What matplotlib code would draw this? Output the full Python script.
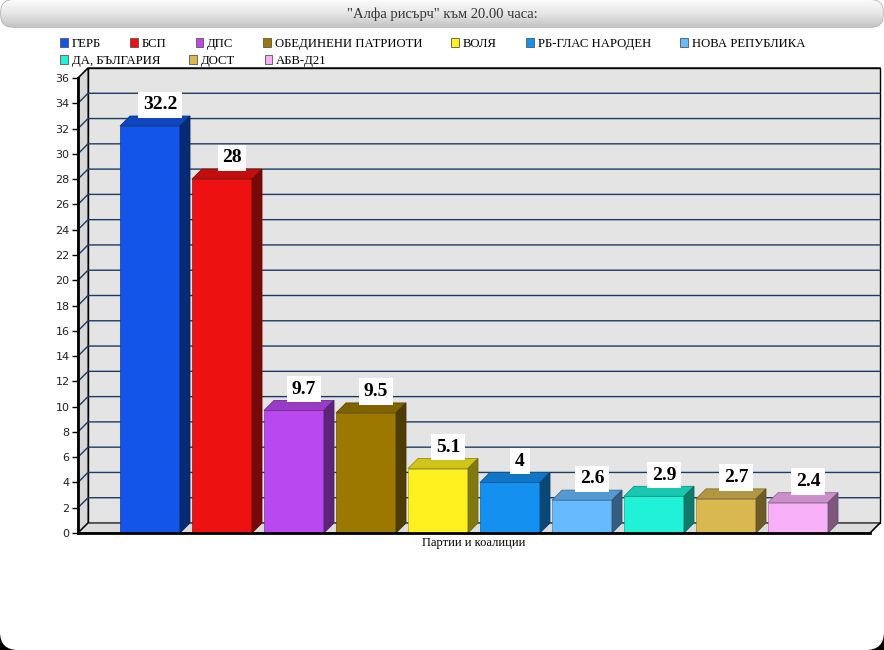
import numpy as np
import matplotlib
matplotlib.use("Agg")
import matplotlib.pyplot as plt
from matplotlib.patches import Polygon, FancyBboxPatch, Rectangle
from matplotlib.colors import to_rgb

parties = ["ГЕРБ", "БСП", "ДПС", "ОБЕДИНЕНИ ПАТРИОТИ", "ВОЛЯ", "РБ-ГЛАС НАРОДЕН",
           "НОВА РЕПУБЛИКА", "ДА, БЪЛГАРИЯ", "ДОСТ", "АБВ-Д21"]
values = [32.2, 28, 9.7, 9.5, 5.1, 4, 2.6, 2.9, 2.7, 2.4]
labels = ["32.2", "28", "9.7", "9.5", "5.1", "4", "2.6", "2.9", "2.7", "2.4"]
colors = ["#1255e8", "#ee1111", "#b948f0", "#9c7800", "#fff020", "#1490f0",
          "#66bbff", "#1ff2d6", "#d9b850", "#f8b0f8"]
yticks = list(range(0, 37, 2))

title = "\"Алфа рисърч\" към 20.00 часа:"
xlabel = "Партии и коалиции"

W, H = 884, 650
fig = plt.figure(figsize=(W / 100, H / 100), dpi=100, facecolor="black")

# background panel + title bar
bg = fig.add_axes([0, 0, 1, 1])
bg.set_xlim(0, W)
bg.set_ylim(H, 0)
bg.axis("off")
bg.add_patch(Rectangle((0, 0), W, 100, fc="white", ec="none"))
bg.add_patch(FancyBboxPatch((0, 0), W, H, boxstyle="round,pad=0,rounding_size=18",
                            fc="white", ec="none"))
bar_patch = FancyBboxPatch((1, 0), W - 2, 27, boxstyle="round,pad=0,rounding_size=12",
                           fc="none", ec="#a8a8a8", lw=1)
bg.add_patch(bar_patch)
grad = np.linspace(0, 1, 100).reshape(-1, 1)
cmap = matplotlib.colors.LinearSegmentedColormap.from_list("tb", ["#fbfbfb", "#e6e6e6", "#c4c4c4"])
im = bg.imshow(grad, extent=(0, W, 27, 0), cmap=cmap, aspect="auto", zorder=1)
im.set_clip_path(bar_patch)
bg.text(W / 2, 14, title, ha="center", va="center", fontsize=10.5,
        family="Liberation Serif", color="#333333", zorder=3)
bg.set_xlim(0, W)
bg.set_ylim(H, 0)

# plot area
left, right, top, bottom = 78, 870, 78, 533
ax = fig.add_axes([left / W, 1 - bottom / H, (right - left) / W, (bottom - top) / H])
xmin, xmax, ymin, ymax = -1.0, 10.0, 0, 36
ax.set_xlim(xmin, xmax)
ax.set_ylim(ymin, ymax)
ax.patch.set_alpha(0)

depth_px = 10
dx = depth_px * (xmax - xmin) / (right - left)
dy = depth_px * (ymax - ymin) / (bottom - top)

wall = "#e4e4e4"
grid_c = "#1c3a66"
# back wall, left wall, floor
ax.add_patch(Rectangle((xmin + dx, ymin + dy), xmax - xmin, ymax - ymin, fc=wall,
                       ec="black", lw=1, clip_on=False, zorder=0))
ax.add_patch(Polygon([(xmin, ymin), (xmin, ymax), (xmin + dx, ymax + dy), (xmin + dx, ymin + dy)],
                     closed=True, fc="#d8d8d8", ec="black", lw=0.8, clip_on=False, zorder=0))
ax.add_patch(Polygon([(xmin, ymin), (xmax, ymin), (xmax + dx, ymin + dy), (xmin + dx, ymin + dy)],
                     closed=True, fc="#dcdcdc", ec="black", lw=0.8, clip_on=False, zorder=0))
for t in yticks[1:]:
    ax.plot([xmin, xmin + dx, xmax + dx], [t, t + dy, t + dy], color=grid_c if t < ymax else "black",
            lw=1, clip_on=False, zorder=0.5)
ax.plot([xmin, xmin + dx], [ymin, ymin + dy], color="black", lw=0.8, clip_on=False, zorder=0.5)

# bars
width = 60 / 72
x = np.arange(len(values))
bars = ax.bar(x, values, width=width, color=colors, zorder=2)
for b, c in zip(bars, colors):
    b.set_edgecolor(np.array(to_rgb(c)) * 0.7)
    b.set_linewidth(0.5)
for xi, v, c, lab in zip(x, values, colors, labels):
    rgb = np.array(to_rgb(c))
    x0, x1 = xi - width / 2, xi + width / 2
    ax.add_patch(Polygon([(x0, v), (x1, v), (x1 + dx, v + dy), (x0 + dx, v + dy)], closed=True,
                         fc=rgb * 0.82, ec=rgb * 0.6, lw=0.6, zorder=2, clip_on=False))
    ax.add_patch(Polygon([(x1, 0), (x1, v), (x1 + dx, v + dy), (x1 + dx, dy)], closed=True,
                         fc=rgb * 0.5, ec=rgb * 0.45, lw=0.6, zorder=2, clip_on=False))
    ax.annotate(lab, xy=(xi + dx, v + dy), xytext=(0, 2), textcoords="offset points",
                ha="center", va="bottom", fontsize=14, fontweight="bold",
                family="Liberation Serif", color="black", zorder=4,
                bbox=dict(boxstyle="square,pad=0.24", fc="white", ec="none"))

# axes lines
for s in ["top", "right"]:
    ax.spines[s].set_visible(False)
ax.spines["left"].set_linewidth(2)
ax.spines["bottom"].set_linewidth(2)
ax.spines["left"].set_zorder(3)
ax.spines["bottom"].set_zorder(3)
ax.plot([xmax, xmax + dx], [ymin, ymin + dy], color="black", lw=1, clip_on=False, zorder=3)
ax.set_yticks(yticks)
ax.set_yticklabels([str(t) for t in yticks], family="DejaVu Sans", fontsize=8, color="#222222")
ax.tick_params(axis="y", length=4, width=1, pad=2)
ax.set_xticks([])
ax.set_xlabel(xlabel, family="Liberation Serif", fontsize=9, labelpad=3)

# legend rows (flowing layout)
handles = [Rectangle((0, 0), 1, 1, fc=c, ec="#555555", lw=0.6) for c in colors]
leg_kw = dict(frameon=False, handlelength=0.6, handleheight=0.7, handletextpad=0.3,
              columnspacing=2.3, prop={"family": "Liberation Serif", "size": 9.2},
              borderaxespad=0, borderpad=0)
fig.legend(handles[:7], parties[:7], ncol=7, loc="upper left",
           bbox_to_anchor=(60 / W, 1 - 38 / H), **leg_kw)
fig.legend(handles[7:], parties[7:], ncol=3, loc="upper left",
           bbox_to_anchor=(60 / W, 1 - 55 / H), **leg_kw)

fig.savefig("out.png", dpi=100, facecolor=fig.get_facecolor())
